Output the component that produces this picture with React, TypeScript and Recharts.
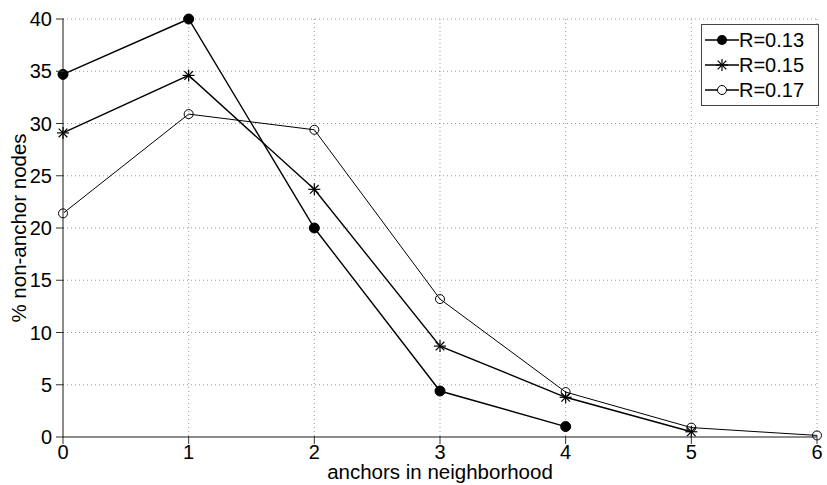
import React from 'react'
import { LineChart, Line, XAxis, YAxis, CartesianGrid } from 'recharts'

const anchors = [0, 1, 2, 3, 4, 5, 6]
const r013 = [34.7, 40, 20, 4.4, 1.0, null, null]
const r015 = [29.1, 34.6, 23.7, 8.7, 3.8, 0.5, null]
const r017 = [21.4, 30.9, 29.4, 13.2, 4.3, 0.9, 0.15]
const yTicks = [0, 5, 10, 15, 20, 25, 30, 35, 40]

const data = anchors.map((x, i) => ({ x, a: r013[i], b: r015[i], c: r017[i] }))

const FONT = '"Liberation Sans", Arial, sans-serif'
const AXIS = '#8c8c8c'

const FilledDot = (p: any) =>
  p.cx == null || p.cy == null || p.value == null ? <g key={p.key} /> : (
    <circle key={p.key} cx={p.cx} cy={p.cy} r={5} fill="#000" stroke="#000" />
  )

const OpenDot = (p: any) =>
  p.cx == null || p.cy == null || p.value == null ? <g key={p.key} /> : (
    <circle key={p.key} cx={p.cx} cy={p.cy} r={4.5} fill="none" stroke="#000" strokeWidth={1} />
  )

const Star = ({ cx, cy, s = 6 }: { cx: number; cy: number; s?: number }) => {
  const d = s * 0.72
  return (
    <g stroke="#000" strokeWidth={1.2}>
      <line x1={cx - s} y1={cy} x2={cx + s} y2={cy} />
      <line x1={cx} y1={cy - s} x2={cx} y2={cy + s} />
      <line x1={cx - d} y1={cy - d} x2={cx + d} y2={cy + d} />
      <line x1={cx - d} y1={cy + d} x2={cx + d} y2={cy - d} />
    </g>
  )
}

const StarDot = (p: any) =>
  p.cx == null || p.cy == null || p.value == null ? <g key={p.key} /> : (
    <g key={p.key}><Star cx={p.cx} cy={p.cy} /></g>
  )

const XTick = ({ x, y, payload }: any) => (
  <g>
    <line x1={x} y1={y - 1} x2={x} y2={y - 9} stroke="#333" strokeWidth={1} />
    <text x={x} y={y + 14} textAnchor="middle" fontSize={20} fontFamily={FONT} fill="#000">
      {payload.value}
    </text>
  </g>
)

const YTick = ({ x, y, payload }: any) => (
  <g>
    <line x1={x + 1} y1={y} x2={x + 9} y2={y} stroke="#333" strokeWidth={1} />
    <text x={x - 3} y={y + 7} textAnchor="end" fontSize={20} fontFamily={FONT} fill="#000">
      {payload.value}
    </text>
  </g>
)

const XLabel = ({ viewBox }: any) => (
  <text x={viewBox.x + viewBox.width / 2} y={viewBox.y + 42} textAnchor="middle" fontSize={20.5} fontFamily={FONT} fill="#000">
    anchors in neighborhood
  </text>
)

const YLabel = ({ viewBox }: any) => {
  const cy = viewBox.y + viewBox.height / 2
  return (
    <text x={26} y={cy} transform={`rotate(-90 26 ${cy})`} textAnchor="middle" fontSize={20.5} fontFamily={FONT} fill="#000">
      % non-anchor nodes
    </text>
  )
}

const legendRows = [
  { name: 'R=0.13', kind: 'filled' },
  { name: 'R=0.15', kind: 'star' },
  { name: 'R=0.17', kind: 'open' },
]

const LegendBox = () => (
  <div
    style={{
      position: 'absolute',
      left: 701,
      top: 24,
      width: 118,
      height: 82,
      border: '1px solid #444',
      background: '#fff',
      boxSizing: 'border-box',
      paddingTop: 2,
    }}
  >
    {legendRows.map((r) => (
      <div key={r.name} style={{ display: 'flex', alignItems: 'center', height: 25 }}>
        <svg width={37} height={20} style={{ display: 'block' }}>
          <line x1={3} y1={10} x2={37} y2={10} stroke="#000" strokeWidth={1.5} />
          {r.kind === 'filled' && <circle cx={20} cy={10} r={5} fill="#000" />}
          {r.kind === 'star' && <Star cx={20} cy={10} />}
          {r.kind === 'open' && <circle cx={20} cy={10} r={4.5} fill="#fff" stroke="#000" />}
        </svg>
        <span style={{ fontFamily: FONT, fontSize: 20, lineHeight: '20px', color: '#000' }}>{r.name}</span>
      </div>
    ))}
  </div>
)

export default function App() {
  return (
    <div style={{ position: 'absolute', left: 0, top: 0, width: 827, height: 485, background: '#fff' }}>
      <LineChart
        width={827}
        height={485}
        data={data}
        margin={{ top: 19, right: 10, bottom: 0, left: 0 }}
      >
        <CartesianGrid stroke="#9a9a9a" strokeDasharray="1 3" />
        <XAxis
          dataKey="x"
          type="number"
          domain={[0, 6]}
          ticks={anchors}
          height={48}
          stroke={AXIS}
          strokeWidth={2}
          tickLine={false}
          tick={<XTick />}
          label={<XLabel />}
        />
        <YAxis
          type="number"
          domain={[0, 40]}
          ticks={yTicks}
          width={63}
          stroke={AXIS}
          strokeWidth={2}
          tickLine={false}
          tick={<YTick />}
          label={<YLabel />}
        />
        <Line dataKey="a" name="R=0.13" stroke="#000" strokeWidth={1.4} dot={FilledDot} activeDot={false} isAnimationActive={false} />
        <Line dataKey="b" name="R=0.15" stroke="#000" strokeWidth={1.4} dot={StarDot} activeDot={false} isAnimationActive={false} />
        <Line dataKey="c" name="R=0.17" stroke="#000" strokeWidth={1} dot={OpenDot} activeDot={false} isAnimationActive={false} />
      </LineChart>
      <LegendBox />
    </div>
  )
}
